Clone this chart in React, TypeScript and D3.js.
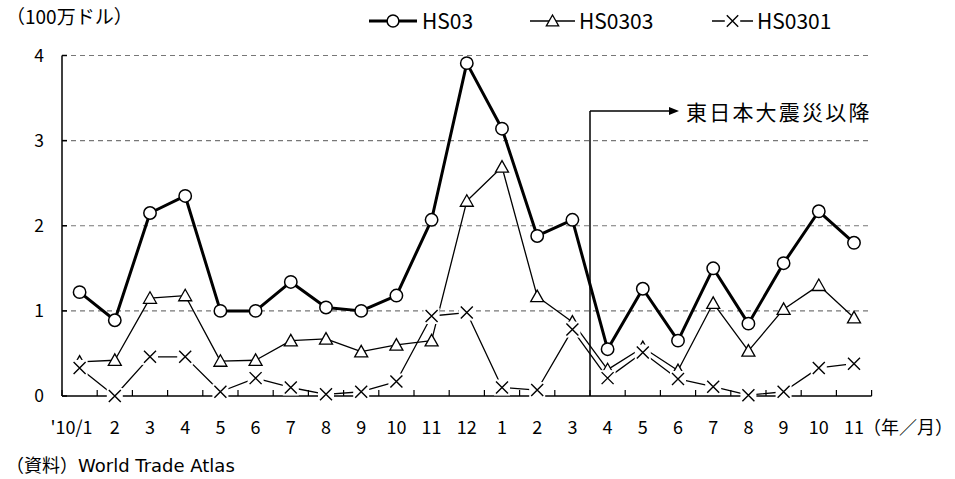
import React from "react";
import * as d3 from "d3";

const months = ["'10/1","2","3","4","5","6","7","8","9","10","11","12","1","2","3","4","5","6","7","8","9","10","11"];
const hs03 = [1.22,0.89,2.15,2.35,1.0,1.0,1.34,1.04,1.0,1.18,2.07,3.91,3.14,1.88,2.07,0.55,1.26,0.65,1.5,0.85,1.56,2.17,1.8];
const hs0303 = [0.4,0.42,1.15,1.18,0.41,0.42,0.65,0.67,0.52,0.6,0.65,2.29,2.69,1.17,0.87,0.31,0.57,0.3,1.09,0.53,1.02,1.3,0.92];
const hs0301 = [0.33,0.0,0.46,0.46,0.05,0.21,0.1,0.02,0.05,0.17,0.94,0.98,0.1,0.07,0.78,0.21,0.51,0.2,0.11,0.01,0.05,0.33,0.38];
const yTicks = [0,1,2,3,4];
const seriesNames = ["HS03","HS0303","HS0301"];
const quakeIndex = 15;

const FONT = "'Noto Sans CJK JP', 'Noto Sans', sans-serif";
const FONT_SRC = "'DejaVu Sans', 'Noto Sans CJK JP', sans-serif";

function Marker({ kind, x, y, s = 1 }: { kind: string; x: number; y: number; s?: number }) {
  if (kind === "circle") return <circle cx={x} cy={y} r={6.2 * s} fill="#fff" stroke="#000" strokeWidth={1.5} />;
  if (kind === "tri") {
    const w = 6.5 * s, h = 11.5 * s;
    const p = `${x},${y - h * 0.55} ${x - w},${y + h * 0.45} ${x + w},${y + h * 0.45}`;
    return <polygon points={p} fill="#fff" stroke="#000" strokeWidth={1.3} />;
  }
  const r = 6 * s;
  return (
    <g>
      <rect x={x - r - 2} y={y - r - 2} width={2 * r + 4} height={2 * r + 4} fill="#fff" />
      <path d={`M${x - r},${y - r}L${x + r},${y + r}M${x - r},${y + r}L${x + r},${y - r}`} stroke="#000" strokeWidth={1.4} />
    </g>
  );
}

export default function App() {
  const W = 955, H = 479;
  const x = d3.scaleBand<number>().domain(d3.range(months.length)).range([62, 871.6]).padding(0);
  const y = d3.scaleLinear().domain([0, 4]).range([396, 55.5]);
  const cx = (i: number) => (x(i) as number) + x.bandwidth() / 2;
  const line = d3.line<number>().x((_, i) => cx(i)).y((d) => y(d));

  const series = [
    { name: seriesNames[1], data: hs0303, kind: "tri", w: 1.3 },
    { name: seriesNames[2], data: hs0301, kind: "x", w: 1.3 },
    { name: seriesNames[0], data: hs03, kind: "circle", w: 3 },
  ];

  const xLeft = 62, xRight = 871.6;
  const qx = x(quakeIndex) as number;
  const annY = 111;

  const legend = [
    { name: seriesNames[0], kind: "circle", w: 3, x0: 369, x1: 417, tx: 422 },
    { name: seriesNames[1], kind: "tri", w: 1.3, x0: 530, x1: 575, tx: 579 },
    { name: seriesNames[2], kind: "x", w: 1.3, x0: 712, x1: 753, tx: 757 },
  ];
  const legY = 21;

  return (
    <svg width={W} height={H} style={{ position: "absolute", left: 0, top: 0, background: "#fff" }} fontFamily={FONT}>
      <rect width={W} height={H} fill="#fff" />
      {/* gridlines */}
      {yTicks.filter((t) => t > 0).map((t) => (
        <line key={t} x1={xLeft} x2={xRight} y1={y(t)} y2={y(t)} stroke="#777" strokeWidth={1.2} strokeDasharray="5,4" />
      ))}
      {/* axes */}
      <line x1={xLeft} x2={xLeft} y1={y(4)} y2={y(0)} stroke="#000" strokeWidth={1.5} />
      <line x1={xLeft} x2={xRight} y1={y(0)} y2={y(0)} stroke="#000" strokeWidth={1.5} />
      {yTicks.map((t) => (
        <g key={t}>
          <line x1={xLeft} x2={xLeft + 5} y1={y(t)} y2={y(t)} stroke="#000" strokeWidth={1.5} />
          <text x={44} y={y(t)} dy="0.36em" textAnchor="end" fontSize={17.5}>{t}</text>
        </g>
      ))}
      {d3.range(months.length + 1).map((i) => {
        const xx = i < months.length ? (x(i) as number) : xRight;
        return <line key={i} x1={xx} x2={xx} y1={y(0)} y2={y(0) - 6} stroke="#000" strokeWidth={1.2} />;
      })}
      {months.map((m, i) => (
        <text key={i} x={i === 0 ? cx(i) + 13 : cx(i)} y={428} dy="0.36em" textAnchor={i === 0 ? "end" : "middle"} fontSize={18}>{m}</text>
      ))}
      <text x={863} y={428} dy="0.36em" fontSize={18}>（年／月）</text>

      {/* quake annotation */}
      <line x1={qx} x2={qx} y1={y(0)} y2={annY} stroke="#000" strokeWidth={1.5} />
      <line x1={qx} x2={670} y1={annY} y2={annY} stroke="#000" strokeWidth={1.5} />
      <polygon points={`${679},${annY} ${669},${annY - 4} ${669},${annY + 4}`} fill="#000" />
      <text x={686} y={annY + 1} dy="0.36em" fontSize={21} letterSpacing={2.2}>東日本大震災以降</text>

      {/* series */}
      {series.map((s) => (
        <g key={s.name}>
          <path d={line(s.data) || ""} fill="none" stroke="#000" strokeWidth={s.w} strokeLinejoin="round" />
          {s.data.map((v, i) => (
            <Marker key={i} kind={s.kind} x={cx(i)} y={y(v)} />
          ))}
        </g>
      ))}

      {/* legend */}
      {legend.map((l) => (
        <g key={l.name}>
          <line x1={l.x0} x2={l.x1} y1={legY} y2={legY} stroke="#000" strokeWidth={l.w} />
          <Marker kind={l.kind} x={(l.x0 + l.x1) / 2} y={legY} s={0.95} />
          <text x={l.tx} y={legY} dy="0.36em" fontSize={21}>{l.name}</text>
        </g>
      ))}

      <text x={6} y={17} dy="0.36em" fontSize={19}>（100万ドル）</text>
      <text x={6} y={466} dy="0.36em" fontSize={18} fontFamily={FONT_SRC}>（資料）World Trade Atlas</text>
    </svg>
  );
}
